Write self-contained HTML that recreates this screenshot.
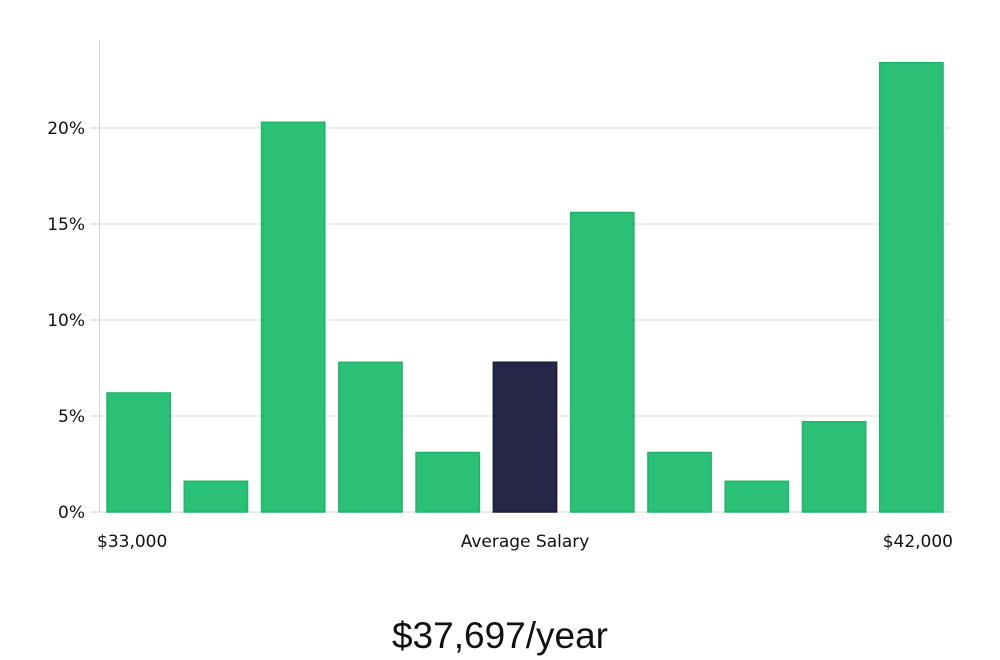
<!DOCTYPE html>
<html><head><meta charset="utf-8">
<style>
html,body{margin:0;padding:0;background:#fff;width:1000px;height:660px;overflow:hidden}
svg{display:block;font-family:"DejaVu Sans","Liberation Sans",sans-serif}
</style></head>
<body>
<svg id="chart" width="1000" height="660"></svg>
<script>
const categories = ["b1","b2","b3","b4","b5","b6","b7","b8","b9","b10","b11"];
const values = [6.2,1.6,20.3,7.8,3.1,7.8,15.6,3.1,1.6,4.7,23.4];
const highlightIndex = 5;
const yTicks = [0,5,10,15,20];
const yTickLabels = ["0%","5%","10%","15%","20%"];
const xLabels = ["$33,000","Average Salary","$42,000"];
const title = "$37,697/year";

const NS="http://www.w3.org/2000/svg";
const svg=document.getElementById('chart');
const X0=100,X1=950,Y0=512,PX_PER=19.2;
const y=v=>Y0-v*PX_PER;
const band=(X1-X0)/categories.length;
const x=i=>X0+i*band;
function mk(t,a,parent){const e=document.createElementNS(NS,t);for(const k in a)e.setAttribute(k,a[k]);(parent||svg).appendChild(e);return e;}

yTicks.forEach((t,i)=>{
  const g=mk('g',{});
  
  
  if(t>0){const l=mk('line',{x1:X0,x2:X1,y1:y(t),y2:y(t),stroke:'#dcdcdc','stroke-width':1},g);
    
    }
  mk('line',{x1:90,x2:X0,y1:y(t),y2:y(t),stroke:'#cfcfcf','stroke-width':1},g);
  const tx=mk('text',{x:85,y:y(t)+6,'text-anchor':'end','font-size':17,fill:'#111'},g);
  tx.textContent=yTickLabels[i];
  
  
});
const ax=mk('line',{x1:99.5,x2:99.5,y1:40,y2:Y0,stroke:'#d6d6d6','stroke-width':1});


const bx=mk('line',{x1:X0,x2:X1,y1:Y0,y2:Y0,stroke:'#d6d6d6','stroke-width':1});



values.forEach((v,i)=>{
  const hi=i===highlightIndex;
  const r=mk('rect',{x:x(i)+7,y:y(v),width:band-14,height:v*PX_PER,fill:hi?'#262649':'#2ac075',stroke:hi?'#1c1c3a':'#22b56a','stroke-width':1.5});
  
  
});

const xl=[[97,'start'],[525,'middle'],[953,'end']];
xLabels.forEach((s,i)=>{
  const t=mk('text',{x:xl[i][0],y:547,'text-anchor':xl[i][1],'font-size':17,fill:'#111'});
  t.textContent=s;
  
  
});
const tt=mk('text',{x:500,y:648,'text-anchor':'middle','font-size':37,fill:'#111','font-family':'Liberation Sans, sans-serif','font-weight':'300'});
tt.textContent=title;


</script>
</body></html>
